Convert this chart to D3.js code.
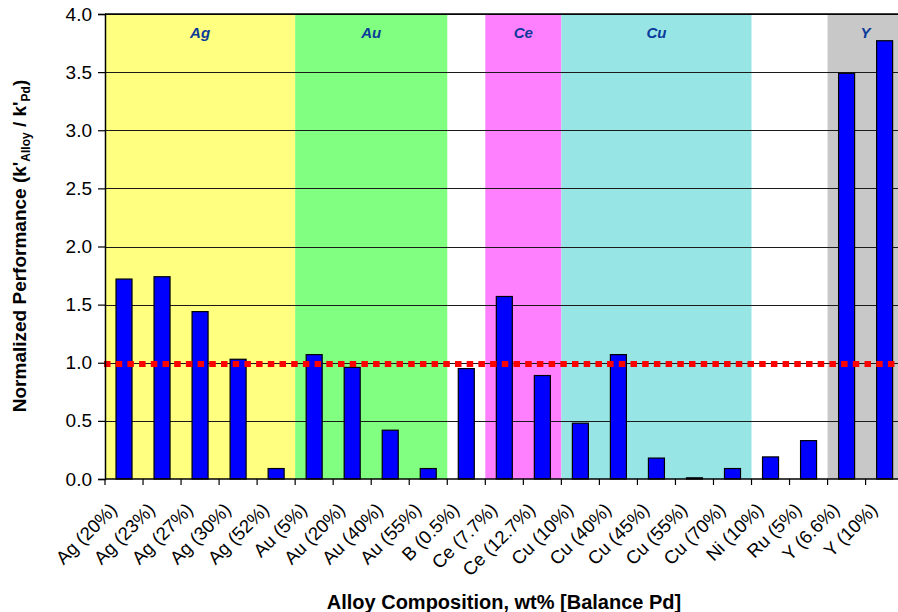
<!DOCTYPE html>
<html>
<head>
<meta charset="utf-8">
<script src="https://cdn.jsdelivr.net/npm/d3@7"></script>
<style>
  html, body { margin: 0; padding: 0; background: #fff; }
  svg { display: block; font-family: "Liberation Sans", Arial, sans-serif; }
</style>
</head>
<body>
<svg id="chart" width="898" height="612"></svg>
<script>
// ---- data ----
const categories = ["Ag (20%)", "Ag (23%)", "Ag (27%)", "Ag (30%)", "Ag (52%)",
  "Au (5%)", "Au (20%)", "Au (40%)", "Au (55%)", "B (0.5%)",
  "Ce (7.7%)", "Ce (12.7%)", "Cu (10%)", "Cu (40%)", "Cu (45%)", "Cu (55%)", "Cu (70%)",
  "Ni (10%)", "Ru (5%)", "Y (6.6%)", "Y (10%)"];
const performance = [1.72, 1.74, 1.44, 1.03, 0.09,
  1.07, 0.96, 0.42, 0.09, 0.95,
  1.57, 0.89, 0.48, 1.07, 0.18, 0.01, 0.09,
  0.19, 0.33, 3.49, 3.77];
const groupNames = ["Ag", "Au", "Ce", "Cu", "Y"];
const groupFirst = ["Ag (20%)", "Au (5%)", "Ce (7.7%)", "Cu (10%)", "Y (6.6%)"];
const groupLast = ["Ag (52%)", "Au (55%)", "Ce (12.7%)", "Cu (70%)", "Y (10%)"];
const referenceValue = [0.99];
const yTicks = [0, 0.5, 1.0, 1.5, 2.0, 2.5, 3.0, 3.5, 4.0];

// ---- styles ----
const groupColor = { Ag: "#FFFF80", Au: "#80FF80", Ce: "#FF80FF", Cu: "#98E5E5", Y: "#C8C8C8" };

const svg = d3.select("#chart");
const mLeft = 105, mTop = 14, mBottom = 479;
const bandW = 38.03;
const x = d3.scaleBand().domain(categories).range([mLeft, mLeft + bandW * categories.length]).padding(0);
const y = d3.scaleLinear().domain([0, 4]).range([mBottom, mTop]);
const mRight = x.range()[1];

// background bands
svg.append("g").selectAll("rect").data(groupNames).join("rect")
  .attr("x", (d, i) => x(groupFirst[i]))
  .attr("width", (d, i) => x(groupLast[i]) + x.bandwidth() - x(groupFirst[i]))
  .attr("y", y(4)).attr("height", y(0) - y(4))
  .attr("fill", d => groupColor[d]);

// group labels
svg.append("g").selectAll("text").data(groupNames).join("text")
  .attr("x", (d, i) => (x(groupFirst[i]) + x(groupLast[i]) + x.bandwidth()) / 2)
  .attr("y", 38)
  .attr("text-anchor", "middle")
  .attr("font-size", 15).attr("font-weight", "bold").attr("font-style", "italic")
  .attr("fill", "#0A3A9A")
  .text(d => d);

// gridlines
svg.append("g").selectAll("line").data(yTicks.filter(t => t > 0)).join("line")
  .attr("x1", mLeft).attr("x2", mRight)
  .attr("y1", d => Math.round(y(d)) + 0.5).attr("y2", d => Math.round(y(d)) + 0.5)
  .attr("stroke", "#1a1a1a").attr("stroke-width", 1.2);

// bars
const barW = 16;
svg.append("g").selectAll("rect").data(performance).join("rect")
  .attr("x", (d, i) => x(categories[i]) + x.bandwidth() / 2 - barW / 2)
  .attr("width", barW)
  .attr("y", d => y(d))
  .attr("height", d => y(0) - y(d))
  .attr("fill", "#0000FF")
  .attr("stroke", "#000").attr("stroke-width", 1.2);

// reference dotted line
svg.append("g").selectAll("line").data(referenceValue).join("line")
  .attr("x1", mLeft - 1).attr("x2", mRight)
  .attr("y1", d => y(d)).attr("y2", d => y(d))
  .attr("stroke", "#FF0000").attr("stroke-width", 6)
  .attr("stroke-dasharray", "6.5,5.2");

// y axis
const yAxis = d3.axisLeft(y).tickValues(yTicks).tickFormat(d3.format(".1f")).tickSize(7).tickPadding(6);
const gy = svg.append("g").attr("transform", `translate(${mLeft},0)`).call(yAxis);
gy.select(".domain").attr("stroke", "#000").attr("stroke-width", 1.5);
gy.selectAll(".tick line").attr("stroke", "#000").attr("stroke-width", 1.2);
gy.selectAll(".tick text").attr("font-size", 19).attr("fill", "#000")
  .attr("font-family", "'Liberation Sans', Arial, sans-serif");

// top border
svg.append("line").attr("x1", mLeft).attr("x2", mRight).attr("y1", mTop).attr("y2", mTop)
  .attr("stroke", "#000").attr("stroke-width", 1.5);

// x axis with ticks at band boundaries
const gx = svg.append("g");
gx.append("line").attr("x1", mLeft).attr("x2", mRight).attr("y1", mBottom).attr("y2", mBottom)
  .attr("stroke", "#000").attr("stroke-width", 1.5);
const boundaries = categories.map(c => x(c)).concat([mRight]);
gx.selectAll("line.tk").data(boundaries).join("line").attr("class", "tk")
  .attr("x1", d => d).attr("x2", d => d).attr("y1", mBottom).attr("y2", mBottom + 6)
  .attr("stroke", "#000").attr("stroke-width", 1.2);
gx.selectAll("text").data(categories).join("text")
  .attr("transform", d => `translate(${x(d) + x.bandwidth() / 2 - 6},${mBottom + 32}) rotate(-45)`)
  .attr("text-anchor", "end")
  .attr("font-size", 18.5).attr("fill", "#000")
  .text(d => d);

// axis titles
svg.append("text")
  .attr("x", 504).attr("y", 609)
  .attr("text-anchor", "middle")
  .attr("font-size", 20).attr("font-weight", "bold")
  .text("Alloy Composition, wt% [Balance Pd]");

const yt = svg.append("text")
  .attr("transform", "translate(26,246) rotate(-90)")
  .attr("text-anchor", "middle")
  .attr("font-size", 19).attr("font-weight", "bold");
yt.append("tspan").text("Normalized Performance (k'");
yt.append("tspan").attr("font-size", 12).attr("dy", 4).text("Alloy");
yt.append("tspan").attr("dy", -4).text(" / k'");
yt.append("tspan").attr("font-size", 12).attr("dy", 4).text("Pd");
yt.append("tspan").attr("dy", -4).text(")");
</script>
</body>
</html>
